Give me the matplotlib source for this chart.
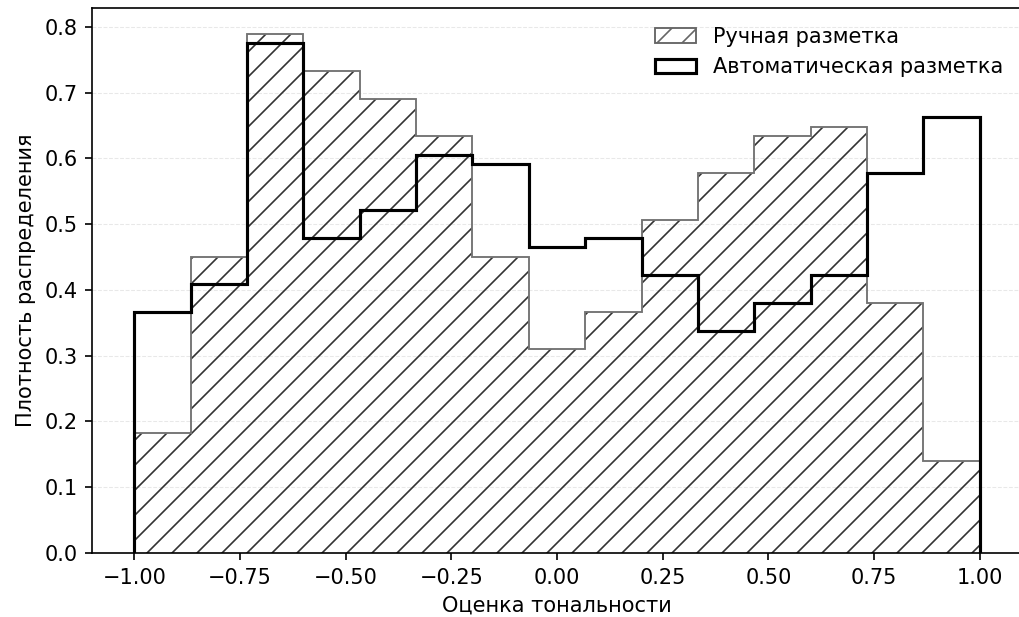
import numpy as np
import matplotlib
matplotlib.use('Agg')
import matplotlib.pyplot as plt
from matplotlib.patches import Patch

# границы интервалов оценки тональности (15 бинов от -1 до 1)
bin_edges = np.linspace(-1.0, 1.0, 16)

manual_density = [0.183, 0.450, 0.789, 0.733, 0.690, 0.634, 0.450, 0.310,
                  0.367, 0.506, 0.578, 0.634, 0.648, 0.380, 0.140]
auto_density = [0.367, 0.409, 0.776, 0.479, 0.522, 0.605, 0.592, 0.465,
                0.479, 0.423, 0.338, 0.380, 0.423, 0.578, 0.663]

labels = ['Ручная разметка', 'Автоматическая разметка']

plt.rcParams['font.family'] = ['DejaVu Sans']
plt.rcParams['font.size'] = 10
plt.rcParams['hatch.linewidth'] = 0.8

fig = plt.figure(figsize=(1019 / 150, 617 / 150), dpi=150)
ax = fig.add_axes([0.0903, 0.1037, 0.9127, 0.8833])

# штриховка ручной разметки
ax.stairs(manual_density, bin_edges, baseline=0, fill=True,
          facecolor='none', edgecolor='0.2', hatch='//', linewidth=0)
ax.stairs(manual_density, bin_edges, baseline=0, color='0.45', linewidth=0.9)
ax.stairs(auto_density, bin_edges, baseline=0, color='black', linewidth=1.5)

ax.grid(axis='y', linestyle='--', color='0.85', linewidth=0.5, alpha=0.6)
ax.set_axisbelow(True)

ax.set_xticks([-1.0, -0.75, -0.5, -0.25, 0.0, 0.25, 0.5, 0.75, 1.0])
ax.set_xlabel('Оценка тональности')
ax.set_ylabel('Плотность распределения')

handles = [Patch(facecolor='none', edgecolor='0.4', hatch='//', linewidth=0.9),
           Patch(facecolor='none', edgecolor='black', linewidth=1.5)]
ax.legend(handles, labels, loc='upper right', frameon=False)

plt.savefig('out.png', dpi=150)
